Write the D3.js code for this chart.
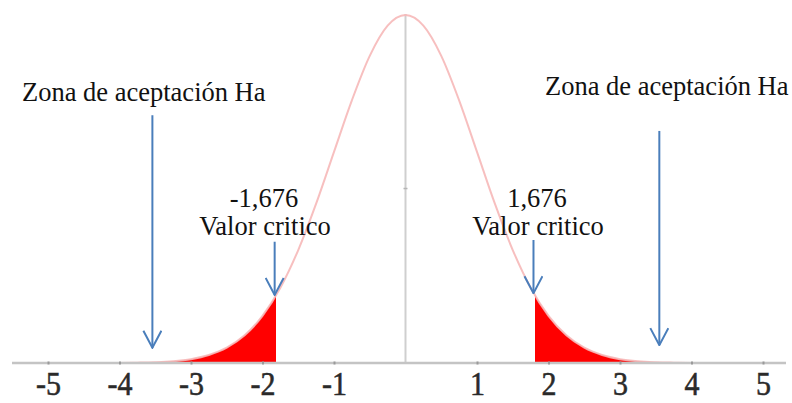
<!DOCTYPE html>
<html>
<head>
<meta charset="utf-8">
<script src="https://cdn.jsdelivr.net/npm/d3@7"></script>
<style>
  html, body { margin: 0; padding: 0; background: #fff; }
  svg { display: block; }
  text.serif { font-family: "Liberation Serif", "Times New Roman", Times, serif; }
</style>
</head>
<body>
<svg id="chart" width="792" height="403"></svg>
<script>
// ---- data ----
const zValues = [-5,-4.75,-4.5,-4.25,-4,-3.75,-3.5,-3.25,-3,-2.75,-2.5,-2.25,-2,-1.75,-1.5,-1.25,-1,-0.75,-0.5,-0.25,0,
                 0.25,0.5,0.75,1,1.25,1.5,1.75,2,2.25,2.5,2.75,3,3.25,3.5,3.75,4,4.25,4.5,4.75,5];
const density = [0,0,0,0,0.0001,0.0004,0.0009,0.002,0.0044,0.0091,0.0175,0.0317,0.054,0.0863,0.1295,0.1826,0.242,0.3011,0.3521,0.3867,0.3989,
                 0.3867,0.3521,0.3011,0.242,0.1826,0.1295,0.0863,0.054,0.0317,0.0175,0.0091,0.0044,0.002,0.0009,0.0004,0.0001,0,0,0,0];
const tickValues = [-5,-4,-3,-2,-1,1,2,3,4,5];
const criticalValues = [-1.676, 1.676];
const shadeBounds = [-1.81, 1.81];
const zoneLabel = "Zona de aceptación Ha";
const criticalLabel = "Valor critico";

// ---- layout ----
const svg = d3.select("#chart");
const x = d3.scaleLinear().domain([-5, 5]).range([48, 763]);
const y = d3.scaleLinear().domain([0, 0.3989]).range([363, 15]);
const pts = zValues.map((z, i) => [z, density[i]]);
const blue = "#4a7ebb";

const defs = svg.append("defs");
defs.append("clipPath").attr("id", "leftTail").append("rect")
  .attr("x", 0).attr("y", 0).attr("width", x(shadeBounds[0])).attr("height", 403);
defs.append("clipPath").attr("id", "rightTail").append("rect")
  .attr("x", x(shadeBounds[1])).attr("y", 0).attr("width", 792 - x(shadeBounds[1])).attr("height", 403);
const marker = defs.append("marker").attr("id", "arrowHead")
  .attr("viewBox", "0 0 20 20").attr("refX", 10).attr("refY", 19)
  .attr("markerWidth", 20).attr("markerHeight", 20).attr("markerUnits", "userSpaceOnUse")
  .attr("orient", "0");
marker.append("path").attr("d", "M1,2 L10,19 L19,2").attr("fill", "none")
  .attr("stroke", blue).attr("stroke-width", 2);

// vertical axis
svg.append("line").attr("x1", x(0)).attr("x2", x(0)).attr("y1", 14).attr("y2", y(0))
  .attr("stroke", "#cfcfcf").attr("stroke-width", 2);
svg.append("line").attr("x1", x(0) - 2).attr("x2", x(0) + 2).attr("y1", y(0.2)).attr("y2", y(0.2))
  .attr("stroke", "#b5b5b5").attr("stroke-width", 1.5);

// shaded tails
const area = d3.area().x(d => x(d[0])).y0(y(0)).y1(d => y(d[1])).curve(d3.curveMonotoneX);
["leftTail", "rightTail"].forEach(id => {
  svg.append("path").datum(pts).attr("d", area).attr("fill", "#ff0000")
    .attr("clip-path", `url(#${id})`);
});

// curve
const line = d3.line().x(d => x(d[0])).y(d => y(d[1])).curve(d3.curveMonotoneX);
svg.append("path").datum(pts).attr("d", line).attr("fill", "none")
  .attr("stroke", "#f6b8b8").attr("stroke-width", 2).attr("opacity", 0.9);

// horizontal axis
svg.append("line").attr("x1", 12).attr("x2", 786).attr("y1", y(0)).attr("y2", y(0))
  .attr("stroke", "#c4c4c4").attr("stroke-width", 2.5);
const axis = d3.axisBottom(x).tickValues(tickValues).tickSize(0).tickPadding(0)
  .tickFormat(d => d < 0 ? "-" + Math.abs(d) : String(d));
const gAxis = svg.append("g").attr("transform", `translate(0,${y(0)})`).call(axis);
gAxis.attr("font-family", null).attr("font-size", null);
gAxis.select(".domain").remove();
gAxis.selectAll(".tick").append("line").attr("y1", -1.5).attr("y2", 1.5)
  .attr("stroke", "#9a9a9a").attr("stroke-width", 2);
gAxis.selectAll(".tick text")
  .attr("class", "serif").attr("font-size", 30).attr("fill", "#2a2a2a")
  .attr("stroke", "#2a2a2a").attr("stroke-width", 0.5)
  .attr("dy", null).attr("y", 0)
  .attr("transform", "translate(0,32) scale(1,1.1)");

// annotations
const arrow = (xv, y1, y2) => svg.append("line")
  .attr("x1", x(xv)).attr("x2", x(xv)).attr("y1", y(y1)).attr("y2", y(y2))
  .attr("stroke", blue).attr("stroke-width", 2).attr("marker-end", "url(#arrowHead)");
arrow(-3.54, 0.284, 0.0175);
arrow(3.55, 0.266, 0.0205);
arrow(shadeBounds[0] - 0.02, 0.139, 0.078);
arrow(shadeBounds[1] - 0.02, 0.141, 0.080);

const txt = (s, tx, ty, anchor) => svg.append("text").attr("class", "serif")
  .attr("x", tx).attr("y", ty)
  .attr("text-anchor", anchor).attr("font-size", 26.5)
  .attr("fill", "#111").text(s);
txt(zoneLabel, 22, 101, "start");
txt(zoneLabel, 545, 95, "start");
const fmt = v => (v < 0 ? "-" : "") + Math.abs(v).toFixed(3).replace(".", ",");
txt(fmt(criticalValues[0]), 264, 207, "middle");
txt(criticalLabel, 265, 235, "middle");
txt(fmt(criticalValues[1]), 537, 207, "middle");
txt(criticalLabel, 538, 235, "middle");
</script>
</body>
</html>
